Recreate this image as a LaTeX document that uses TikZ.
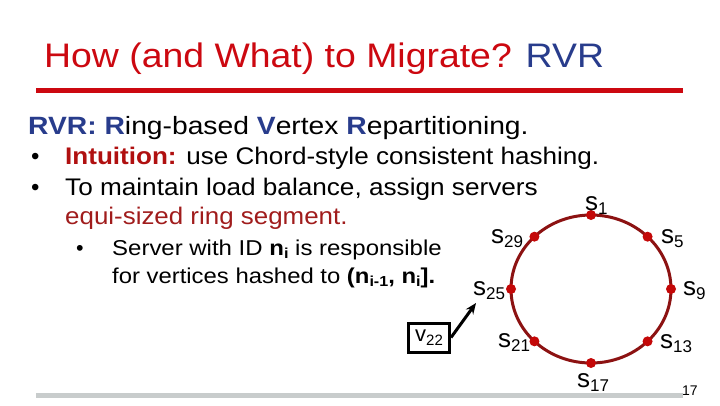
\documentclass[tikz,border=0pt]{standalone}
\usepackage{fontspec}
\setmainfont{Liberation Sans}
\usetikzlibrary{arrows.meta}
\definecolor{titlered}{RGB}{204,8,16}
\definecolor{rvrblue}{RGB}{40,60,140}
\definecolor{intured}{RGB}{176,16,16}
\definecolor{segred}{RGB}{160,28,28}
\definecolor{ringred}{RGB}{140,18,18}
\definecolor{dotred}{RGB}{196,8,8}
\definecolor{barGrey}{RGB}{200,204,204}
\newcommand{\srv}[1]{s\raisebox{-0.35ex}{\fontsize{17}{17}\selectfont #1}}
\newcommand{\bsub}[1]{\raisebox{-0.35ex}{\fontsize{14.5}{14.5}\selectfont\bfseries #1}}
\newcommand{\hs}[2]{\scalebox{#1}[1]{#2}}

\begin{document}
\begin{tikzpicture}[x=1pt,y=-1pt,
  body/.style={anchor=base west,inner sep=0pt,font=\fontsize{24}{28}\selectfont},
  sub/.style={anchor=base west,inner sep=0pt,font=\fontsize{21.5}{24}\selectfont},
  srvlabel/.style={anchor=base west,inner sep=0pt,font=\fontsize{26}{28}\selectfont}]
  \useasboundingbox (0,0) rectangle (720,405);
  % title and rules
  \node[anchor=base west,inner sep=0pt,text=titlered,font=\fontsize{34}{36}\selectfont]
    (title) at (44,67) {\hs{1.1}{How (and What) to Migrate? {\color{rvrblue}RVR}}};
  \draw[titlered,line width=4.5pt] (36,90.5) -- (683,90.5);
  \draw[barGrey,line width=5pt] (36,395.5) -- (683,395.5);
  \node[anchor=base west,inner sep=0pt,font=\fontsize{14}{14}\selectfont] (page) at (682,395) {17};
  % text
  \node[body,font=\fontsize{25}{28}\selectfont] (rvr) at (28,134)
    {\hs{1.13}{{\color{rvrblue}\bfseries RVR: R}ing-based {\color{rvrblue}\bfseries V}ertex {\color{rvrblue}\bfseries R}epartitioning.}};
  \node[body] (b1) at (31,164) {\textbullet};
  \node[body] (intu) at (65,164) {\hs{1.086}{{\color{intured}\bfseries Intuition:} use Chord-style consistent hashing.}};
  \node[body] (b2) at (31,195) {\textbullet};
  \node[body] (bal) at (65,195) {\hs{1.09}{To maintain load balance, assign servers}};
  \node[body,text=segred] (seg) at (65,224) {\hs{1.08}{equi-sized ring segment.}};
  \node[sub] (b3) at (76,255) {\textbullet};
  \node[sub] (resp) at (112,255) {\hs{1.115}{Server with ID \textbf{n}\bsub{i} is responsible}};
  \node[sub] (hash) at (112,283) {\hs{1.11}{for vertices hashed to \textbf{(n}\bsub{i-1}\textbf{, n}\bsub{i}\textbf{].}}};
  % ring
  \coordinate (c) at (591,289);
  \draw[ringred,line width=3pt] (c) ellipse (80pt and 74pt);
  \foreach \k in {0,...,7}
    \fill[dotred] (c) ++({90-45*\k}:80pt and 74pt) circle (5pt);
  \node[srvlabel] (s1) at (585,210) {\srv{1}};
  \node[srvlabel] (s5) at (661,243) {\srv{5}};
  \node[srvlabel] (s9) at (683,295) {\srv{9}};
  \node[srvlabel] (s13) at (660,348) {\srv{13}};
  \node[srvlabel] (s17) at (577,387) {\srv{17}};
  \node[srvlabel] (s21) at (498,347) {\srv{21}};
  \node[srvlabel] (s25) at (473,295) {\srv{25}};
  \node[srvlabel] (s29) at (491,243) {\srv{29}};
  % vertex
  \node[draw,line width=3pt,minimum width=41pt,minimum height=29pt,inner sep=0pt,
    font=\fontsize{22}{22}\selectfont] (v22) at (429,337.5)
    {v\raisebox{-0.35ex}{\fontsize{15}{15}\selectfont 22}};
  \coordinate (tip) at (476,303);
  \draw[-{Stealth[length=11pt,width=9pt]},line width=3pt] (v22.east) -- (tip);
\end{tikzpicture}
\end{document}
